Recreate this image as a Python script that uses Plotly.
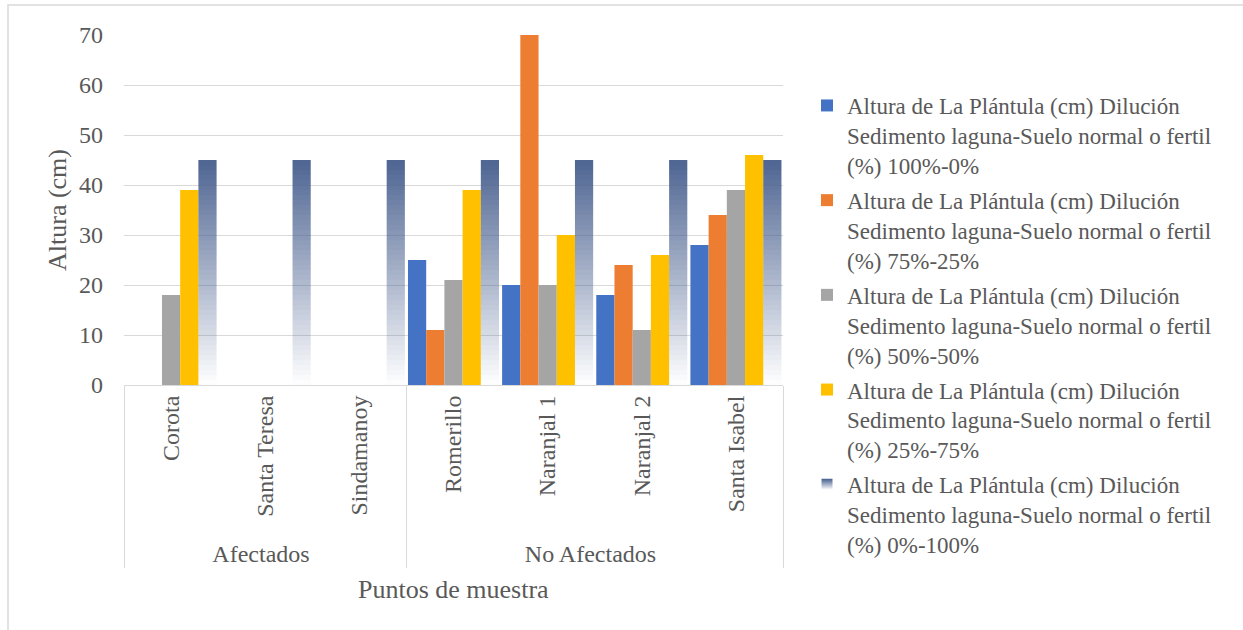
import plotly.graph_objects as go

# Sampling points and their groups
groups = ["Afectados"] * 3 + ["No Afectados"] * 4
points = ["Corota", "Santa Teresa", "Sindamanoy", "Romerillo",
          "Naranjal 1", "Naranjal 2", "Santa Isabel"]

# Seedling height (cm) per dilution (lagoon sediment % - fertile soil %)
h_100_0 = [0, 0, 0, 25, 20, 18, 28]
h_75_25 = [0, 0, 0, 11, 70, 24, 34]
h_50_50 = [18, 0, 0, 21, 20, 11, 39]
h_25_75 = [39, 0, 0, 39, 30, 26, 46]
h_0_100 = [45, 45, 45, 45, 45, 45, 45]

prefix = "Altura de La Plántula (cm) Dilución<br>Sedimento laguna-Suelo normal o fertil<br>(%) "
names = [prefix + s for s in ["100%-0%", "75%-25%", "50%-50%", "25%-75%", "0%-100%"]]
colors = ["#4472c4", "#ed7d31", "#a5a5a5", "#ffc000"]

FONT = "Times New Roman, Liberation Serif, serif"
GREY = "#595959"
W, H = 1243, 630
L, R, T, B = 124, 460, 35, 245
PW, PH = W - L - R, H - T - B


def px_x(p):
    return (p - L) / PW


def px_y(p):
    return 1 - (p - T) / PH


x = [groups, points]
fig = go.Figure()

for vals, name, col, grp in zip([h_100_0, h_75_25, h_50_50, h_25_75],
                                names[:4], colors, ["a", "b", "c", "d"]):
    fig.add_trace(go.Bar(x=x, y=vals, name=name, offsetgroup=grp, legendgroup=grp,
                         marker=dict(color=col, line=dict(width=0))))

# Last series: vertical fade from navy (top) to transparent (bottom),
# built from thin stacked slices sharing one offset group.
N = 45
navy = (68, 92, 140)
for i in range(N):
    frac_lo = i / N
    alpha = 0.95 * (i + 0.5) / N
    fig.add_trace(go.Bar(
        x=x,
        y=[v / N for v in h_0_100],
        base=[v * frac_lo for v in h_0_100],
        offsetgroup="e", legendgroup="e",
        marker=dict(color=f"rgba({navy[0]},{navy[1]},{navy[2]},{alpha:.3f})",
                    line=dict(width=0)),
        showlegend=False,
        hoverinfo="skip",
    ))

# Legend entry for the faded series: square marker with vertical gradient
fig.add_trace(go.Scatter(
    x=[None], y=[None], name=names[4], mode="markers", legendgroup="e",
    marker=dict(symbol="square", size=11, color="rgb(68,92,140)",
                line=dict(width=0),
                gradient=dict(type="vertical", color="rgba(255,255,255,1)")),
))

fig.update_layout(
    width=W, height=H,
    margin=dict(l=L, r=R, t=T, b=B),
    barmode="group", bargap=0.033, bargroupgap=0,
    plot_bgcolor="white", paper_bgcolor="white",
    font=dict(family=FONT, color=GREY, size=24),
    legend=dict(
        xref="container", yref="container",
        x=807 / W, y=1 - 84 / H, xanchor="left", yanchor="top",
        font=dict(family=FONT, size=23, color=GREY),
        valign="top", traceorder="grouped", tracegroupgap=2, itemwidth=30,
        bgcolor="rgba(0,0,0,0)", maxheight=580,
    ),
    showlegend=True,
)

fig.update_xaxes(
    type="multicategory", tickangle=-90, showline=True, linecolor="#d9d9d9",
    linewidth=1, showdividers=True, dividercolor="#d9d9d9", dividerwidth=1,
    ticks="", showgrid=False, tickfont=dict(size=24, color=GREY, family=FONT),
)
fig.update_yaxes(
    range=[0, 70], dtick=10, showgrid=True, gridcolor="#d9d9d9", gridwidth=1,
    zeroline=False, showline=False, ticks="", ticklabelstandoff=20,
    tickfont=dict(size=24, color=GREY, family=FONT),
)

# Axis titles
fig.add_annotation(text="Altura (cm)", xref="paper", yref="paper",
                   x=px_x(57), y=px_y(210), xanchor="center", yanchor="middle",
                   textangle=-90, showarrow=False,
                   font=dict(size=26, color=GREY, family=FONT))
fig.add_annotation(text="Puntos de muestra", xref="paper", yref="paper",
                   x=px_x(453), y=px_y(589), xanchor="center", yanchor="middle",
                   showarrow=False,
                   font=dict(size=26, color=GREY, family=FONT))

# Chart-area frame
fig.add_shape(type="rect", xref="paper", yref="paper",
              x0=px_x(8), x1=px_x(1270), y0=px_y(660), y1=px_y(5),
              line=dict(color="#d9d9d9", width=1.5), fillcolor="rgba(0,0,0,0)",
              layer="below")

fig.write_html("out.html")
